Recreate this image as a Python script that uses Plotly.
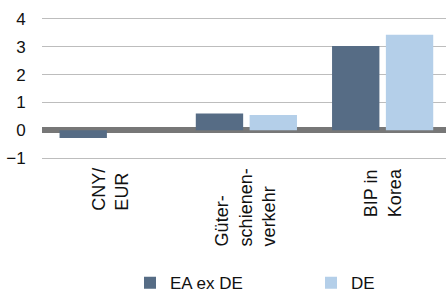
import plotly.graph_objects as go

categories = ["CNY/<br>EUR", "Güter-<br>schienen-<br>verkehr", "BIP in<br>Korea"]
ea_ex_de = [-0.28, 0.6, 3.03]
de = [0.0, 0.55, 3.43]
y_ticks = [-1, 0, 1, 2, 3, 4]

W, H = 446, 292
PL, PR, PT, PB = 42, 446, 10, 165  # plot area in pixels

fig = go.Figure()
fig.add_trace(go.Bar(x=categories, y=ea_ex_de, name="EA ex DE", marker_color="#566c85",
                     marker_line_width=0, legend="legend"))
fig.add_trace(go.Bar(x=categories, y=de, name="DE", marker_color="#b4cfe9",
                     marker_line_width=0, legend="legend2"))

font = "Liberation Sans, Arial, sans-serif"
annotations = [
    dict(text=c, x=c, xref="x", y=(H - PB) / H, yref="paper", xanchor="center",
         yanchor="top", textangle=-90, align="left", showarrow=False,
         font=dict(size=18, color="#111111"), yshift=-1)
    for c in categories
]
leg_common = dict(orientation="h", xanchor="left", yanchor="middle", y=0.03,
                  font=dict(size=17, color="#111111"), itemclick=False,
                  bgcolor="rgba(0,0,0,0)")
fig.update_layout(
    width=W, height=H,
    margin=dict(l=0, r=0, t=0, b=0, autoexpand=False),
    paper_bgcolor="white", plot_bgcolor="white",
    barmode="group", bargap=0.21, bargroupgap=0.12,
    font=dict(family=font, size=16, color="#111111"),
    showlegend=True,
    legend=dict(x=130 / W, **leg_common),
    legend2=dict(x=311 / W, **leg_common),
    annotations=annotations,
    xaxis=dict(domain=[PL / W, PR / W], range=[-0.5, 2.465], showgrid=False,
               showline=False, zeroline=False, showticklabels=False, automargin=False),
    yaxis=dict(domain=[(H - PB) / H, (H - PT) / H], range=[-1.25, 4.32],
               tickvals=y_ticks, showgrid=True, automargin=False,
               gridcolor="#bdbdbd", gridwidth=1, zeroline=True, zerolinecolor="#777777",
               zerolinewidth=6, ticks="outside", ticklen=12, tickcolor="rgba(0,0,0,0)",
               layer="above traces", tickfont=dict(size=17)),
)
fig.write_html("out.html", config={"displayModeBar": False},
               post_script="document.body.style.margin='0';document.body.style.overflow='hidden';")
